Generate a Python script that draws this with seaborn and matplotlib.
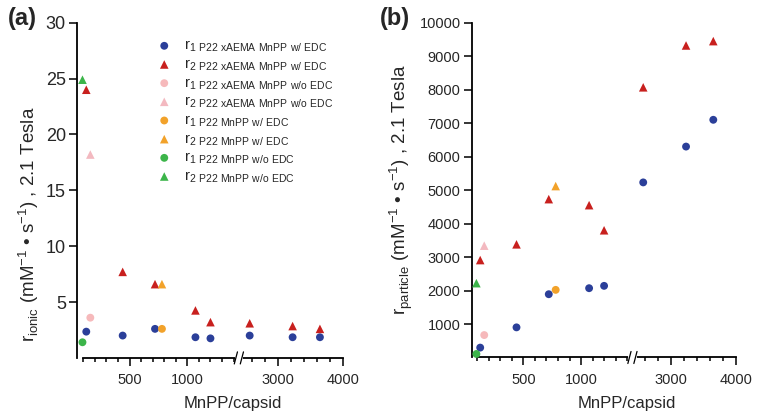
import numpy as np
import pandas as pd
import seaborn as sns
import matplotlib
matplotlib.use('Agg')
import matplotlib.pyplot as plt
from matplotlib.ticker import NullLocator

# 数据 (MnPP/capsid)
x_blue = [125, 440, 720, 1070, 1200, 2570, 3230, 3650]
x_pink = [160]
x_orange = [780]
x_green = [92]

# r_ionic
r1_blue = [2.35, 2.0, 2.6, 1.85, 1.75, 2.0, 1.85, 1.85]
r2_red = [24.0, 7.7, 6.6, 4.25, 3.2, 3.1, 2.85, 2.6]
r1_pink = [3.6]
r2_pink = [18.2]
r1_orange = [2.6]
r2_orange = [6.6]
r1_green = [1.4]
r2_green = [24.9]

# r_particle
p1_blue = [295, 900, 1890, 2070, 2140, 5230, 6300, 7100]
p2_red = [2910, 3380, 4730, 4550, 3800, 8070, 9320, 9450]
p1_pink = [670]
p2_pink = [3340]
p1_orange = [2020]
p2_orange = [5120]
p1_green = [105]
p2_green = [2220]

labels = [r'r$_{\mathregular{1\ P22\ xAEMA\ MnPP\ w/\ EDC}}$',
          r'r$_{\mathregular{2\ P22\ xAEMA\ MnPP\ w/\ EDC}}$',
          r'r$_{\mathregular{1\ P22\ xAEMA\ MnPP\ w/o\ EDC}}$',
          r'r$_{\mathregular{2\ P22\ xAEMA\ MnPP\ w/o\ EDC}}$',
          r'r$_{\mathregular{1\ P22\ MnPP\ w/\ EDC}}$',
          r'r$_{\mathregular{2\ P22\ MnPP\ w/\ EDC}}$',
          r'r$_{\mathregular{1\ P22\ MnPP\ w/o\ EDC}}$',
          r'r$_{\mathregular{2\ P22\ MnPP\ w/o\ EDC}}$']
colors = ['#2b3f99', '#c8201e', '#f6b9bb', '#f3b9c0', '#f2a22a', '#f2a22a', '#3cb54a', '#3cb54a']
markers = ['o', '^', 'o', '^', 'o', '^', 'o', '^']

sns.set_style('ticks')
plt.rcParams['font.family'] = ['Liberation Sans', 'DejaVu Sans']
plt.rcParams['mathtext.fontset'] = 'custom'
plt.rcParams['mathtext.rm'] = 'Liberation Sans'

# 断轴
A, B, G, K = 1420., 2450., 52., 0.563
def fwd(x):
    x = np.asarray(x, float)
    return np.where(x <= A, x, np.where(x >= B, A + G + (x - B) * K, A + (x - A) * G / (B - A)))
def inv(y):
    y = np.asarray(y, float)
    return np.where(y <= A, y, np.where(y >= A + G, B + (y - A - G) / K, A + (y - A) * (B - A) / G))

fig = plt.figure(figsize=(7.59, 4.19), dpi=100)
ax1 = fig.add_axes([0.1015, 0.1458, 0.35, 0.80])
ax2 = fig.add_axes([0.6215, 0.1468, 0.3482, 0.799])

xs = [x_blue, x_blue, x_pink, x_pink, x_orange, x_orange, x_green, x_green]
ys1 = [r1_blue, r2_red, r1_pink, r2_pink, r1_orange, r2_orange, r1_green, r2_green]
ys2 = [p1_blue, p2_red, p1_pink, p2_pink, p1_orange, p2_orange, p1_green, p2_green]

for ax, ys, xl, yl in [(ax1, ys1, 45, (0, 30)), (ax2, ys2, 51.4, (0, 10000))]:
    ax.set_xscale('function', functions=(fwd, inv))
    for x, y, c, m, lab in zip(xs, ys, colors, markers, labels):
        sns.scatterplot(x=x, y=y, color=c, marker=m, s=38 if m == '^' else 32,
                        edgecolor='none', ax=ax, label=lab, clip_on=False, zorder=3)
    ax.set_xlim(xl, 4000)
    ax.set_ylim(*yl)
    ax.set_xticks([500, 1000, 3000, 4000])
    ax.set_xticklabels(['500', '1000', '3000', '4000'])
    ax.set_xticks(list(range(100, 1500, 100)) + list(range(2600, 4000, 200)), minor=True)
    ax.yaxis.set_minor_locator(NullLocator())
    sns.despine(ax=ax)
    ax.spines['bottom'].set_bounds(100, 4000)
    for s in ['left', 'bottom']:
        ax.spines[s].set_linewidth(1.3)
        ax.spines[s].set_color('black')
    ax.tick_params(axis='both', which='major', direction='out', length=6, width=1.1, color='black')
    ax.tick_params(axis='x', which='minor', direction='out', length=3, width=1.1, color='black')
    ax.tick_params(axis='x', labelsize=10.5, pad=5)
    ax.tick_params(axis='y', pad=2)
    ax.set_xlabel('MnPP/capsid', fontsize=12)
    ax.xaxis.set_label_coords(0.585, -0.115)
    # 断开标记
    xa = ax.transAxes.inverted().transform(ax.transData.transform((A, 0)))[0]
    xb = ax.transAxes.inverted().transform(ax.transData.transform((B, 0)))[0]
    ax.plot([xa + 0.003, xb - 0.003], [0, 0], color='white', lw=3, transform=ax.transAxes,
            clip_on=False, zorder=5)
    for xx in [xa, xb]:
        ax.plot([xx - 0.006, xx + 0.006], [-0.018, 0.018], color='black', lw=0.9,
                transform=ax.transAxes, clip_on=False, zorder=6)

ax1.set_yticks([5, 10, 15, 20, 25, 30])
ax1.tick_params(axis='y', labelsize=13)
ax2.set_yticks(range(1000, 10001, 1000))
ax2.tick_params(axis='y', labelsize=10.5)

ax1.set_ylabel(r'r$_{\mathregular{ionic}}$ (mM$^{\mathregular{-1}}$ • s$^{\mathregular{-1}}$) , 2.1 Tesla',
               fontsize=13.5)
ax1.yaxis.set_label_coords(-0.135, 0.40)
ax2.set_ylabel(r'r$_{\mathregular{particle}}$ (mM$^{\mathregular{-1}}$ • s$^{\mathregular{-1}}$) , 2.1 Tesla',
               fontsize=13.5)
ax2.yaxis.set_label_coords(-0.215, 0.5)

ax1.legend(loc='upper left', bbox_to_anchor=(0.25, 0.97), frameon=False, fontsize=10.7,
           labelspacing=0.2, handletextpad=0.3, borderaxespad=0)
ax2.get_legend().remove()

fig.text(0.011, 0.957, '(a)', fontsize=17, fontweight='bold', va='center')
fig.text(0.500, 0.957, '(b)', fontsize=17, fontweight='bold', va='center')

fig.savefig('out.png', dpi=100)
